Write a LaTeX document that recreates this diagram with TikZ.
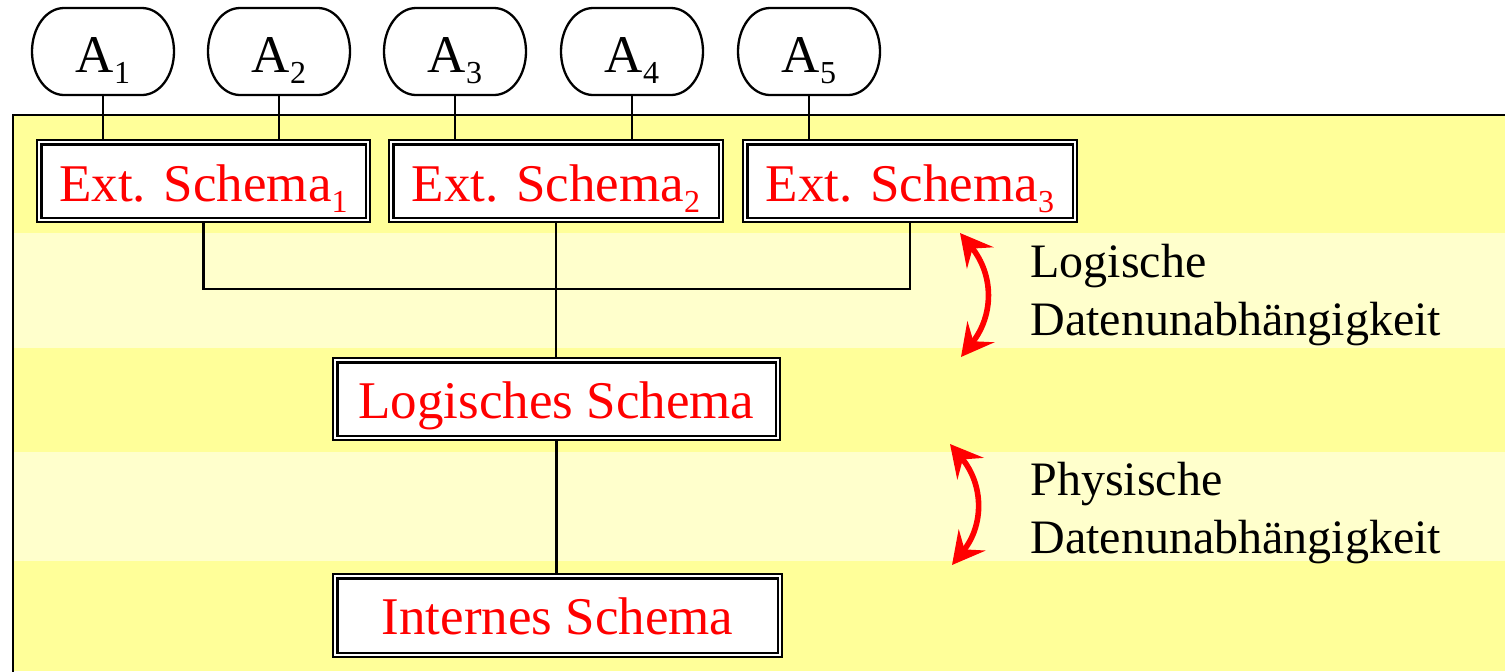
\documentclass[tikz,border=0pt]{standalone}
\usepackage{fontspec}
\setmainfont{Liberation Serif}
\usetikzlibrary{arrows.meta}
\definecolor{bandD}{HTML}{FFFF99}
\definecolor{bandL}{HTML}{FFFFCC}
\newcommand\subidx[1]{\raisebox{-5.5pt}{\fontsize{16}{16}\selectfont #1}}
\begin{document}
\begin{tikzpicture}[x=0.5pt,y=-0.5pt,
  appnode/.style={rectangle, minimum width=71pt, minimum height=43.5pt, inner sep=0pt,
    text height=20.5pt, text depth=0pt, font=\fontsize{26.5}{30}\selectfont},
  appline/.style={draw, line width=1.15pt, fill=white},
  schema/.style={draw, line width=0.9pt, fill=white, inner sep=0pt,
    minimum height=41pt, text=red, text height=20.5pt, text depth=0pt,
    font=\fontsize{26.5}{30}\selectfont},
  innerframe/.style={line width=1.4pt},
  conn/.style={line width=1.1pt},
  dep/.style={red, line width=2.8pt,
    {Stealth[length=16pt,width=17pt,inset=6pt]}-{Stealth[length=16pt,width=17pt,inset=6pt]}},
  lbl/.style={anchor=base west, inner sep=0pt, font=\fontsize{24}{29}\selectfont}
]
\useasboundingbox (0,0) rectangle (1505,671);
\clip (0,0) rectangle (1505,671);
% bands
\fill[bandD] (13,115) rectangle (1505,233);
\fill[bandL] (13,233) rectangle (1505,348);
\fill[bandD] (13,348) rectangle (1505,452);
\fill[bandL] (13,452) rectangle (1505,561);
\fill[bandD] (13,561) rectangle (1505,671);
\draw[line width=1.1pt] (13,690) -- (13,115) -- (1520,115);
% application outlines (elliptic ends)
\foreach \x in {103,279,455,632,809}
  \path[appline] (\x,8) ++(-39,0) -- ++(78,0)
    arc[start angle=90, end angle=-90, x radius=16pt, y radius=21.75pt]
    -- ++(-78,0)
    arc[start angle=-90, end angle=-270, x radius=16pt, y radius=21.75pt] -- cycle;
% application nodes
\node[appnode] (a1) at (103,51.5) {A\subidx{1}};
\node[appnode] (a2) at (279,51.5) {A\subidx{2}};
\node[appnode] (a3) at (455,51.5) {A\subidx{3}};
\node[appnode] (a4) at (632,51.5) {A\subidx{4}};
\node[appnode] (a5) at (809,51.5) {A\subidx{5}};
% schema nodes
\node[schema, minimum width=166.5pt] (e1) at (203.5,181) {Ext. Schema\subidx{1}};
\node[schema, minimum width=167pt] (e2) at (556,181) {Ext. Schema\subidx{2}};
\node[schema, minimum width=167pt] (e3) at (910,181) {Ext. Schema\subidx{3}};
\node[schema, minimum width=223.5pt, text height=19.5pt] (ls) at (556.5,399) {Logisches Schema};
\node[schema, minimum width=224.5pt, minimum height=41.5pt, text height=19pt] (is) at (557.5,615.5) {Internes Schema};
\foreach \n in {e1,e2,e3,ls,is}
  \draw[innerframe] ([xshift=2.5pt,yshift=-2.5pt]\n.north west) rectangle ([xshift=-2.5pt,yshift=2.5pt]\n.south east);
% connectors
\draw[conn] (a1.south) -- (a1.south |- e1.north);
\draw[conn] (a2.south) -- (a2.south |- e1.north);
\draw[conn] (a3.south) -- (a3.south |- e2.north);
\draw[conn] (a4.south) -- (a4.south |- e2.north);
\draw[conn] (a5.south) -- (a5.south |- e3.north);
\coordinate (j) at (203,289);
\draw[conn] (e1.south) |- (e3.south |- j) -- (e3.south);
\draw[conn] (e2.south) -- (e2.south |- ls.north);
\draw[conn] (ls.south) -- (ls.south |- is.north);
% dependency arrows
\coordinate (l1) at (960,233);
\coordinate (l2) at (961,357);
\coordinate (p1) at (950,444);
\coordinate (p2) at (952,565);
\draw[dep] (l1) .. controls (994,275) and (994,315) .. (l2);
\draw[dep] (p1) .. controls (984,485) and (984,525) .. (p2);
% labels
\node[lbl] (lg1) at (1030,277) {Logische};
\node[lbl] (lg2) at (1030,335) {Datenunabhängigkeit};
\node[lbl] (ph1) at (1030,495) {Physische};
\node[lbl] (ph2) at (1030,553) {Datenunabhängigkeit};
\end{tikzpicture}
\end{document}
